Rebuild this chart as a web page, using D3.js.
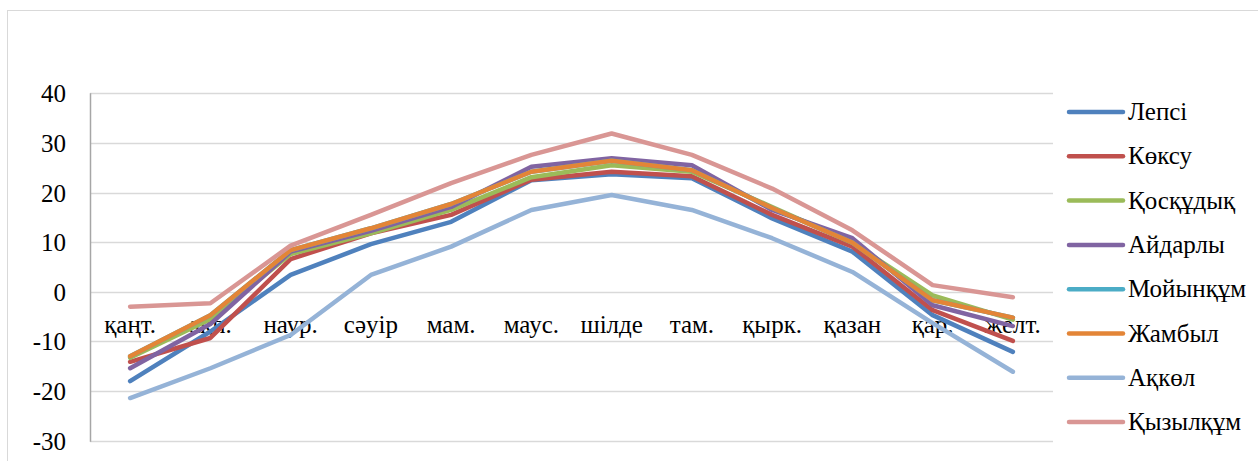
<!DOCTYPE html>
<html><head><meta charset="utf-8">
<script src="https://cdn.jsdelivr.net/npm/d3@7"></script>
<style>
@font-face{font-family:"RefSerif";src:local("Liberation Serif"),local("LiberationSerif"),local("Liberation Serif Regular"),local("LiberationSerif-Regular");}
html,body{margin:0;padding:0;background:#fff;overflow:hidden;font-family:"Liberation Serif",serif}
</style></head>
<body>
<svg id="chart" width="1258" height="461" font-family="Liberation Serif"></svg>
<script>
const months = ["қаңт.","ақп.","наур.","сәуір","мам.","маус.","шілде","там.","қырк.","қазан","қар.","желт."];
const yTicks = [-30,-20,-10,0,10,20,30,40];
const seriesNames = ["Лепсі","Көксу","Қосқұдық","Айдарлы","Мойынқұм","Жамбыл","Ақкөл","Қызылқұм"];
const seriesColors = ["#4F81BD","#C0504D","#9BBB59","#8064A2","#4BACC6","#E38537","#95B3D7","#D99694"];
const lepsi     = [-18.0,-8.0, 3.4, 9.6,14.1,22.5,23.7,22.9,14.8, 8.1,-4.7,-12.1];
const koksu     = [-14.1,-9.3, 6.6,11.8,15.5,22.6,24.2,23.3,15.5, 9.1,-3.7, -9.9];
const koskuduk  = [-13.3,-5.5, 7.6,11.8,16.5,23.1,25.5,24.2,17.1, 9.9,-0.7, -5.6];
const aidarly   = [-15.4,-6.5, 8.1,12.3,17.1,25.2,26.9,25.5,16.5,10.8,-2.7, -6.9];
const moiynkum  = [-13.0,-4.7, 8.4,12.8,17.7,24.2,26.4,24.5,16.9, 9.9,-1.7, -5.2];
const zhambyl   = [-13.0,-4.7, 8.4,12.8,17.7,24.2,26.4,24.5,16.9, 9.9,-1.7, -5.2];
const akkol     = [-21.4,-15.4,-8.7, 3.4, 9.1,16.5,19.5,16.5,10.8, 4.0,-6.3,-16.1];
const kyzylkum  = [-3.0,-2.3, 9.3,15.5,21.9,27.6,31.9,27.6,20.8,12.4, 1.35,-1.1];
const seriesValues = [lepsi,koksu,koskuduk,aidarly,moiynkum,zhambyl,akkol,kyzylkum];

const FONT = '"Liberation Serif"';
const svg = d3.select("#chart");
const plot = {left:90, right:1053, top:93.3, bottom:440.7};

svg.append("rect").attr("x",7.5).attr("y",10.5).attr("width",1300).attr("height",500)
  .attr("fill","none").attr("stroke","#d9d9d9").attr("stroke-width",1);

const x = d3.scaleBand().domain(months).range([plot.left, plot.right]);
const y = d3.scaleLinear().domain([-30,40]).range([plot.bottom, plot.top]);

svg.append("g").selectAll("line").data(yTicks).join("line")
  .attr("x1",plot.left).attr("x2",plot.right)
  .attr("y1",d=>Math.round(y(d))+0.5).attr("y2",d=>Math.round(y(d))+0.5)
  .attr("stroke","#d9d9d9").attr("stroke-width",1.5);

svg.append("line").attr("x1",plot.left+0.5).attr("x2",plot.left+0.5)
  .attr("y1",plot.top).attr("y2",plot.bottom+1).attr("stroke","#a6a6a6").attr("stroke-width",1.5);

// y tick labels
const ya = svg.append("g").attr("transform","translate(66,0)");
ya.selectAll("text").data(yTicks).join("text")
  .attr("x",0).attr("y",d=>y(d)+9).attr("text-anchor","end")
  .style("font-family",FONT).style("font-size","25px").attr("fill","#000")
  .text(d=>String(d));

// category labels
const xa = svg.append("g");
xa.selectAll("text").data(months).join("text")
  .attr("x",d=>x(d)+x.bandwidth()/2).attr("y",y(0)+41).attr("text-anchor","middle")
  .style("font-family",FONT).style("font-size","25px").attr("fill","#000")
  .text(d=>d);

const line = d3.line().x((d,i)=>x(months[i])+x.bandwidth()/2).y(d=>y(d));
svg.append("g").selectAll("path").data(seriesValues).join("path")
  .attr("d",d=>line(d)).attr("fill","none")
  .attr("stroke",(d,i)=>seriesColors[i]).attr("stroke-width",4.5)
  .attr("stroke-linejoin","round").attr("stroke-linecap","round");

const lg = svg.append("g").selectAll("g").data(seriesNames).join("g")
  .attr("transform",(d,i)=>`translate(0,${112 + i*44.3})`);
lg.append("line").attr("x1",1069).attr("x2",1123).attr("y1",0).attr("y2",0)
  .attr("stroke",(d,i)=>seriesColors[i]).attr("stroke-width",4.5).attr("stroke-linecap","round");
lg.append("text").attr("x",1128).attr("y",8).style("font-family",FONT).style("font-size","25px")
  .attr("fill","#000").text(d=>d);
</script>
</body></html>
